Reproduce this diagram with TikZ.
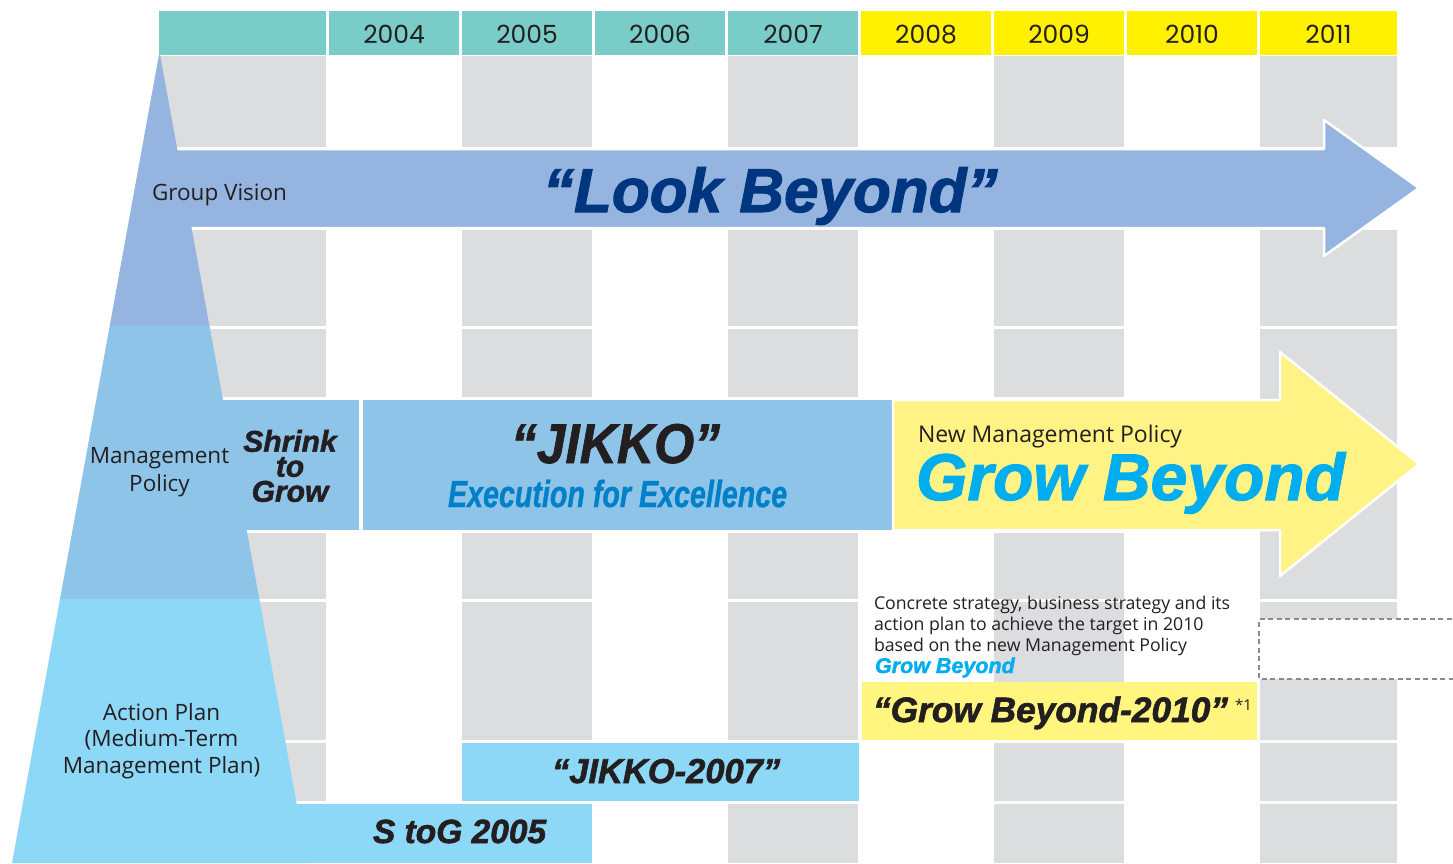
\documentclass[tikz,border=0pt]{standalone}
\usepackage{fontspec}
\setmainfont{Open Sans}
\newfontfamily\yearfont{Poppins}
\newfontfamily\heavyfont{Liberation Sans}[UprightFont={* Bold Italic},UprightFeatures={FakeBold=1.7}]
\newfontfamily\condAfont{Liberation Sans}[UprightFont={* Bold Italic},UprightFeatures={FakeStretch=0.92,FakeBold=1.2}]
\newfontfamily\condBfont{Liberation Sans}[UprightFont={* Bold Italic},UprightFeatures={FakeStretch=0.76,FakeBold=0.8}]
\newcommand\fsz[1]{\fontsize{#1}{#1}\selectfont}
\definecolor{hdrteal}{HTML}{7ACCC8}
\definecolor{hdryel}{HTML}{FFF100}
\definecolor{stripe}{HTML}{DCDDDF}
\definecolor{bandA}{HTML}{95B4DF}
\definecolor{bandB}{HTML}{8FC4E9}
\definecolor{bandC}{HTML}{8DD7F7}
\definecolor{arrowyel}{HTML}{FFF385}
\definecolor{boxyel}{HTML}{FFF57F}
\definecolor{cyantxt}{HTML}{00AEEF}
\definecolor{exectxt}{HTML}{0080C8}
\definecolor{lookblue}{HTML}{00367F}
\definecolor{txt}{HTML}{231F20}
\definecolor{dashgray}{HTML}{8A8A8A}
\tikzset{
  lbl/.style={inner sep=0pt, outer sep=0pt, text=txt},
  yr/.style={lbl, anchor=base, font=\yearfont\fsz{25}},
  plain/.style={lbl, font=\fsz{22.5}},
  heavy/.style={lbl, font=\heavyfont\fsz{30}},
  arrowshape/.style={draw=white, line width=2.5pt, line join=round},
}
\begin{document}
\begin{tikzpicture}[x=1pt,y=-1pt]
\useasboundingbox (0,0) rectangle (1453,863);
% header row
\fill[hdrteal] (159,11) rectangle (326,54.5);
\foreach \l/\r/\yr/\c in {329/459/2004/hdrteal, 462/592/2005/hdrteal, 595/725/2006/hdrteal, 728/858/2007/hdrteal, 861/991/2008/hdryel, 994/1124/2009/hdryel, 1127/1257/2010/hdryel, 1260/1397/2011/hdryel} {
  \fill[\c] (\l,11) rectangle (\r,54.5);
  \node[yr] (y\yr) at ({(\l+\r)/2},43) {\yr};
}
% gray stripes
\foreach \l/\r in {159/326, 462/592, 728/858, 994/1124} {
  \foreach \t/\b in {55.5/147, 230/326, 328.5/397, 533/599, 602/740, 743/801, 804/863} {
    \fill[stripe] (\l,\t) rectangle (\r,\b);
  }
}
\foreach \t/\b in {55.5/147, 230/326, 328.5/599, 602/740, 743/801, 804/863} {
  \fill[stripe] (1260,\t) rectangle (1397,\b);
}
% group vision arrow
\draw[arrowshape, fill=bandA] (150,149) -- (1324,149) -- (1324,120) -- (1419,188) -- (1324,256) -- (1324,228) -- (150,228) -- cycle;
% management policy row
\fill[bandB] (200,400) rectangle (359,530);
\fill[bandB] (363,400) rectangle (892,530);
\draw[arrowshape, fill=arrowyel] (893,400) -- (1280,400) -- (1280,352) -- (1419,464) -- (1280,576) -- (1280,530) -- (893,530) -- cycle;
% action plan row
\fill[bandC] (250,804) rectangle (592,863);
\fill[bandC] (462,743) rectangle (859,801);
\fill[boxyel] (862,682) rectangle (1257,740);
\draw[dashgray, line width=1.6pt, dash pattern=on 5pt off 3.5pt, fill=white] (1460,619) -- (1259,619) -- (1259,679) -- (1460,679);
% left trapezoid bands
\fill[bandA] (159,54.5) -- (160,54.5) -- (209.5,326) -- (109.7,326) -- cycle;
\fill[bandB] (109.7,326) -- (209.5,326) -- (259.3,599) -- (60,599) -- cycle;
\fill[bandC] (60,599) -- (259.3,599) -- (307.5,863) -- (12,863) -- cycle;
% texts
\node[plain, anchor=base west] (gv) at (152,200) {Group Vision};
\node[lbl, anchor=base west, text=lookblue, font=\heavyfont\fsz{62}] (look) at (543,212) {“Look Beyond”};
\node[plain, anchor=base] (mp1) at (159.5,463) {Management};
\node[plain, anchor=base] (mp2) at (159.5,491) {Policy};
\node[lbl, align=center, anchor=center, font=\heavyfont\fontsize{30}{25}\selectfont] (stg) at (290,466) {Shrink\\to\\Grow};
\node[lbl, anchor=base west, font=\condAfont\fsz{56}] (jikko) at (511,463) {“JIKKO”};
\node[lbl, anchor=base west, text=exectxt, font=\condBfont\fsz{37.7}] (exec) at (448,507) {Execution for Excellence};
\node[plain, anchor=base west, font=\fsz{23}] (nmp) at (918,442) {New Management Policy};
\node[lbl, anchor=base west, text=cyantxt, font=\heavyfont\fsz{66}] (gb) at (916,500) {Grow Beyond};
\node[plain, anchor=base west, font=\fsz{17.7}] (cs1) at (874,609) {Concrete strategy, business strategy and its};
\node[plain, anchor=base west, font=\fsz{17.7}] (cs2) at (874,630) {action plan to achieve the target in 2010};
\node[plain, anchor=base west, font=\fsz{17.7}] (cs3) at (874,651) {based on the new Management Policy};
\node[lbl, anchor=base west, text=cyantxt, font=\heavyfont\fsz{21.5}] (cs4) at (875,673) {Grow Beyond};
\node[heavy, anchor=base west, font=\heavyfont\fsz{35.3}] (gb10) at (873,722) {“Grow Beyond-2010”};
\node[plain, anchor=base west, font=\fsz{15}] (note) at (1235,710) {*1};
\node[heavy, anchor=base west, font=\heavyfont\fsz{34.5}] (j07) at (552,783) {“JIKKO-2007”};
\node[heavy, anchor=base west, font=\heavyfont\fsz{33.5}] (s2g) at (373,843) {S toG 2005};
\node[plain, anchor=base] (ap1) at (161.5,720) {Action Plan};
\node[plain, anchor=base] (ap2) at (161.5,746) {(Medium-Term};
\node[plain, anchor=base] (ap3) at (161.5,773) {Management Plan)};
\end{tikzpicture}
\end{document}
